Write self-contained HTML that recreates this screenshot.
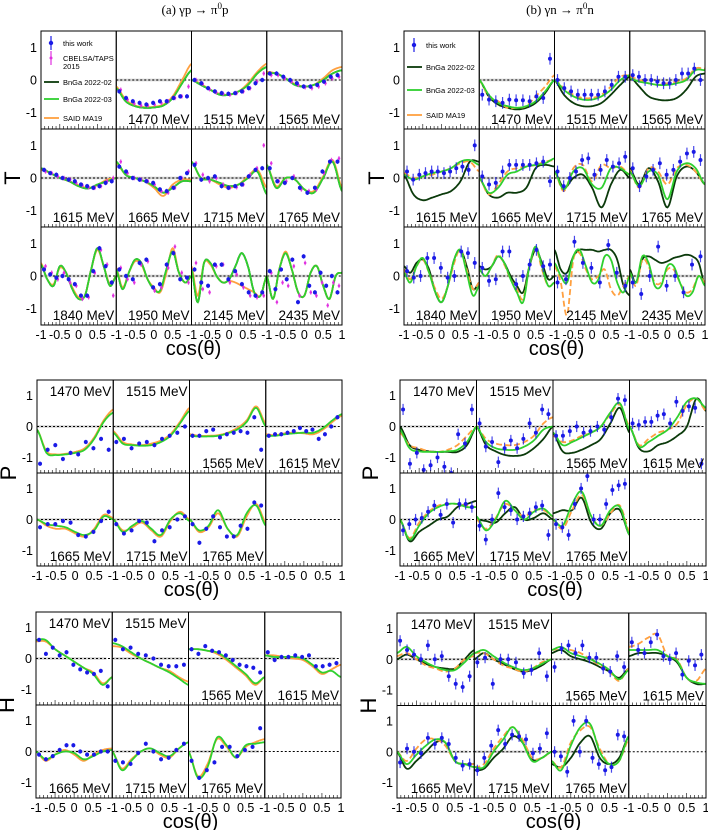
<!DOCTYPE html>
<html><head><meta charset="utf-8"><style>
html,body{margin:0;padding:0;background:#fff}
svg{display:block;font-family:"Liberation Sans",sans-serif}
</style></head><body>
<svg id="c" width="708" height="830" viewBox="0 0 708 830">
<text x="195" y="14" font-family="Liberation Serif,serif" font-size="13" text-anchor="middle">(a) γp → π<tspan dy="-5" font-size="9">0</tspan><tspan dy="5">p</tspan></text>
<text x="560" y="14" font-family="Liberation Serif,serif" font-size="13" text-anchor="middle">(b) γn → π<tspan dy="-5" font-size="9">0</tspan><tspan dy="5">n</tspan></text>
</svg>
<script>
// ---- data ----
const energiesT = ["1470 MeV","1515 MeV","1565 MeV","1615 MeV","1665 MeV","1715 MeV","1765 MeV","1840 MeV","1950 MeV","2145 MeV","2435 MeV"];
const energiesPH = ["1470 MeV","1515 MeV","1565 MeV","1615 MeV","1665 MeV","1715 MeV","1765 MeV"];
const yTicks = [1,0,-1];
const xTickLabels = ["-1","-0.5","0","0.5"];
const xTickVals = [-1,-0.5,0,0.5];

// left T (gamma p)
const LT_green = [
[-0.25,-0.65,-0.8,-0.85,-0.84,-0.78,-0.55,-0.1,0.3],
[0,-0.15,-0.3,-0.45,-0.45,-0.35,-0.15,0.2,0.4],
[0.2,0.2,0.05,-0.15,-0.2,-0.15,0.0,0.2,0.3],
[0.3,0.15,0,-0.1,-0.25,-0.32,-0.2,-0.1,0],
[0.5,0.1,0,-0.1,-0.25,-0.45,-0.3,-0.1,-0.1],
[0.5,0,-0.05,-0.15,-0.25,-0.2,0,0.2,-0.5],
[0.4,-0.3,0,-0.05,-0.35,-0.45,0,0.5,-0.4],
[0.35,-0.1,-0.3,0.3,0.1,-0.4,-0.7,-0.6,0.2,0.85,0.3,-0.3,0],
[0.2,-0.4,0.1,0.5,0.4,-0.1,-0.4,-0.45,0.2,0.75,0.1,-0.2,0],
[0.2,-0.8,0.4,0.4,0,-0.2,-0.1,0.3,0.7,0.3,-0.5,-0.6,0],
[0,-0.7,0.2,0.7,0.2,-0.5,-0.6,0.1,0.3,-0.3,-0.7,0,0.1]];
const LT_orange = [
[-0.2,-0.6,-0.78,-0.83,-0.82,-0.75,-0.5,0.0,0.5],
[0,-0.12,-0.3,-0.42,-0.45,-0.35,-0.1,0.25,0.5],
[0.25,0.2,0.05,-0.12,-0.2,-0.15,0.05,0.3,0.4],
[0.25,0.15,0,-0.1,-0.22,-0.3,-0.22,-0.05,0],
[0.45,0.1,0,-0.1,-0.3,-0.55,-0.2,-0.05,-0.05],
[0.5,0,-0.05,-0.2,-0.3,-0.2,0.05,0.25,-0.3],
[0.4,-0.25,0,-0.05,-0.35,-0.4,0.05,0.55,-0.3],
[0.4,-0.1,-0.25,0.25,0.1,-0.35,-0.65,-0.6,0.2,0.8,0.3,-0.25,0],
[0.25,-0.35,0.1,0.45,0.35,-0.1,-0.35,-0.5,0.1,0.85,0.1,-0.2,0],
[0.3,-0.6,0.4,0.35,0,-0.2,-0.15,-0.2,-0.3,-0.4,-0.5,-0.6,0],
[0,-0.7,0.2,0.75,0.2,-0.5,-0.6,0.1,0.3,-0.3,-0.7,0,0.1]];
const LT_pts = [
[-0.35,-0.55,-0.65,-0.7,-0.75,-0.7,-0.65,-0.65,-0.55,-0.5,-0.5],
[0,-0.1,-0.25,-0.35,-0.4,-0.42,-0.4,-0.35,-0.25,-0.1,0.0],
[0.2,0.2,0.1,0.0,-0.1,-0.2,-0.2,-0.15,-0.05,0.1,0.15],
[0.25,0.15,0.1,0,-0.05,-0.1,-0.2,-0.25,-0.3,-0.25,-0.15,-0.1],
[0.35,0.2,0,-0.05,-0.1,-0.15,-0.35,-0.4,-0.3,0,0.15],
[0.4,-0.05,0,0.05,-0.25,-0.3,-0.25,-0.2,0.05,0.25,0.3],
[0.3,-0.1,-0.15,0,-0.3,-0.45,-0.3,0.2,0.5,0.5],
[0.2,0.05,-0.05,0,-0.1,-0.25,-0.6,-0.6,0.15,0.85,0.3,-0.2],
[0.2,0,-0.1,0.4,0.5,-0.35,-0.25,0.35,0.7,-0.1,-0.05],
[0.2,-0.2,-0.3,0.35,0.35,-0.1,0.15,-0.25,-0.5,-0.6,-0.5],
[0.15,-0.4,0.2,-0.1,0.5,-0.8,0.6,-0.3,-0.5,0.1,-0.3,0,-0.5]];
const LT_mag = [
[-0.3,-0.6,-0.72,-0.78,-0.78,-0.75,-0.7,-0.65,-0.55,-0.5,-0.2],
[0,-0.12,-0.28,-0.38,-0.42,-0.45,-0.4,-0.35,-0.25,-0.05,0.2],
[0.15,0.15,0.05,-0.05,-0.15,-0.22,-0.25,-0.2,-0.1,0.05,0.1],
[0.2,0.15,0.05,0,-0.05,-0.15,-0.22,-0.28,-0.3,-0.25,-0.1,0.0],
[0.5,0.15,0,-0.05,-0.1,-0.2,-0.4,-0.45,-0.3,0,0.2],
[0.45,0.1,-0.1,0,-0.2,-0.3,-0.28,-0.2,0.1,0.3,1.0],
[0.45,-0.1,-0.1,0.05,-0.35,-0.4,-0.35,0.15,0.55,0.6],
[0.3,0.1,-0.1,0.1,-0.2,-0.3,-0.7,-0.65,0.1,0.8,0.35,-0.6],
[0.25,-0.1,-0.2,0.35,0.45,-0.45,-0.35,0.25,0.9,0.1,-0.2],
[0.4,-0.4,-0.5,0.3,0.35,-0.2,0.05,-0.35,-0.6,-0.65,-0.6],
[0.1,-0.8,-0.2,-0.3,0.3,-0.6,0.4,-0.5,-0.6,-0.2,-0.9,-0.2,-0.3]];

// right T (gamma n)
const RT_dark = [
[0,-0.5,-0.75,-0.85,-0.9,-0.85,-0.7,-0.4,0],
[0,-0.45,-0.7,-0.8,-0.8,-0.7,-0.45,-0.15,0.1],
[0.1,-0.2,-0.5,-0.6,-0.62,-0.55,-0.3,0.1,0.2],
[0.1,-0.5,-0.68,-0.6,-0.5,-0.4,-0.1,0.5,0.5],
[0,-0.5,-0.6,-0.45,-0.45,-0.3,0.3,0.4,0.35],
[0.2,-0.3,0,0.1,-0.3,-0.9,-0.2,0.25,0],
[0.3,-0.2,0.3,-0.1,-0.9,0.05,0.35,0.2,-0.2],
[0.3,0.1,0.4,0.5,0.2,-0.5,-0.8,-0.3,0.5,0.8,0.3,-0.4,-0.2],
[0.3,0.2,0.3,0.6,0.4,0,-0.3,-0.5,0.3,0.8,0.4,-0.1,0],
[0.8,0.2,0.1,0.6,0.8,0.8,0.8,0.75,0.8,0.8,0.5,-0.3,-0.6],
[0.2,-0.2,0.5,0.6,0.5,0.4,0.45,0.55,0.6,0.65,0.6,0.4,-0.3]];
const RT_green = [
[0,-0.45,-0.7,-0.8,-0.85,-0.8,-0.65,-0.35,0],
[0,-0.3,-0.5,-0.6,-0.6,-0.5,-0.3,0.0,0.15],
[0.05,-0.05,-0.1,-0.15,-0.15,-0.1,0,0.3,0.3],
[0.1,-0.05,0.05,0.15,0.2,0.3,0.5,0.55,0.4],
[0,-0.45,-0.3,0.1,0.2,0.35,0.4,0.45,0.6],
[0.2,-0.35,0.2,0.3,-0.2,-0.3,0.3,0.3,0.1],
[0.2,-0.25,0.2,0.1,-0.65,0.2,0.45,0.3,-0.2],
[0.1,-0.2,0.3,0.55,0.1,-0.5,-0.8,-0.3,0.5,0.8,0.1,-0.6,-0.3],
[0.2,0.0,0.3,0.6,0.4,-0.1,-0.5,-0.8,0.3,0.9,0.3,-0.3,-0.2],
[0.4,0.0,-0.2,0.6,0.8,0.3,-0.2,-0.1,0.6,0.5,-0.2,-0.5,0],
[0.1,-0.2,0.6,0.4,-0.3,-0.3,0.3,0.3,-0.2,-0.6,-0.5,0,-0.3]];
const RT_orange = [
[0,-0.5,-0.65,-0.85,-0.85,-0.8,-0.5,-0.2,0.15],
[0,-0.25,-0.45,-0.55,-0.55,-0.45,-0.2,0.1,0.15],
[0.1,0,-0.1,-0.15,-0.1,-0.05,0.05,0.35,0.35],
[0.15,0,0.05,0.1,0.2,0.3,0.45,0.5,0.2],
[0,-0.5,-0.2,0.2,0.3,0.35,0.4,0.5,0.55],
[0.2,-0.4,0.3,0.4,-0.1,0.4,0.3,0.35,0.1],
[0.25,-0.3,0.3,0.2,-0.2,0.3,0.4,0.2,-0.2],
[0.2,-0.1,0.3,0.5,0.1,-0.4,-0.7,-0.3,0.4,0.8,0.2,-0.4,-0.2],
[0.2,0.0,0.3,0.65,0.35,-0.1,-0.4,-0.7,0.3,0.85,0.2,-0.3,-0.2],
[0.3,-0.2,-1.2,0.5,0.7,0.2,-0.1,0,0.2,-0.4,-0.6,-0.3,0],
[0.1,-0.3,0.5,0.3,-0.2,-0.2,0.2,0.2,-0.2,-0.5,-0.4,0,-0.2]];
const RT_pts = [
[-0.45,-0.6,-0.65,-0.7,-0.6,-0.62,-0.62,-0.65,-0.5,-0.55,0.65],
[0,-0.25,-0.35,-0.45,-0.45,-0.45,-0.45,-0.35,-0.15,0.1,0.1],
[0.15,0.1,0,0.0,-0.05,-0.1,-0.1,0,0.2,0.2,0.35,0],
[0.2,-0.05,0.1,0.15,0.2,0.2,0.15,0.2,0.3,0.35,0.25,1.0],
[0.05,-0.2,-0.15,0.2,0.4,0.4,0.4,0.4,0.45,0.5,-0.1],
[0.2,-0.25,0,0.2,0.55,0.6,0.1,0.25,0.55,0.35,0.45,0.65],
[0.3,-0.25,0.05,0.25,0.45,0.1,0.25,0.5,0.75,0.8,0.55],
[0.15,-0.05,0,0.55,0.55,0.25,-0.05,0,0.75,0.7,0.4],
[0.25,-0.15,-0.1,0.75,0.75,-0.25,0,0.35,0.8,0.3,0.35],
[-0.2,-0.1,1.05,0.4,0.25,-0.2,0.95,0.1,-0.3],
[-0.2,-0.55,0,0.9,-0.3,0,-0.5,0.35,0.6]];

// left P
const LP_green = [
[-0.1,-0.85,-0.92,-0.9,-0.85,-0.75,-0.4,0.15,0.45],
[-0.2,-0.55,-0.6,-0.62,-0.6,-0.5,-0.3,0.1,0.5],
[-0.3,-0.32,-0.32,-0.3,-0.22,-0.1,0.15,0.6,0.0],
[-0.3,-0.3,-0.25,-0.22,-0.2,-0.2,-0.05,0.2,0.4],
[0,-0.15,-0.2,-0.25,-0.4,-0.5,-0.35,0.1,0],
[0,-0.4,-0.2,-0.05,-0.3,-0.5,0,0.2,-0.05],
[0,-0.35,-0.2,0.3,-0.3,-0.5,0.2,0.45,-0.2]];
const LP_orange = [
[-0.1,-0.8,-0.9,-0.88,-0.82,-0.7,-0.35,0.2,0.55],
[-0.15,-0.5,-0.58,-0.6,-0.55,-0.45,-0.25,0.15,0.6],
[-0.25,-0.3,-0.3,-0.28,-0.2,-0.05,0.2,0.65,0.1],
[-0.25,-0.28,-0.22,-0.2,-0.22,-0.25,-0.1,0.15,0.35],
[0,-0.2,-0.3,-0.3,-0.45,-0.55,-0.3,0.15,0.05],
[0,-0.35,-0.25,-0.1,-0.35,-0.55,-0.05,0.25,0],
[0,-0.4,-0.25,0.2,-0.3,-0.55,0.1,0.5,-0.1]];
const LP_pts = [
[-1.2,-0.75,-0.6,-1.05,-0.85,-0.9,-0.5,-0.7,-0.4,-0.75],
[-0.5,-0.4,-0.7,-0.55,-0.5,-0.6,-0.4,-0.3,-0.2,0],
[-0.3,-0.3,-0.15,-0.1,-0.35,-0.25,-0.2,-0.15,-0.2,0.3,-0.75],
[-0.3,-0.25,-0.25,-0.2,-0.15,-0.05,-0.15,-0.1,-0.4,-0.25,0.0,0.3],
[-0.25,-0.15,-0.15,-0.05,-0.1,-0.5,-0.55,-0.4,-0.05,0.25],
[-0.15,-0.45,-0.35,-0.05,-0.1,-0.7,-0.35,-0.25,0.0,0.1],
[-0.15,-0.75,-0.3,0.1,-0.25,-0.55,-0.55,-0.2,-0.3,0.55,0.45]];

// right P
const RP_dark = [
[0,-0.6,-0.75,-0.8,-0.82,-0.82,-0.82,-0.6,0],
[0,-0.6,-0.8,-0.92,-0.95,-0.9,-0.7,-0.4,0],
[-0.2,-0.8,-0.85,-0.75,-0.6,-0.4,0.1,0.6,-0.2],
[0,-0.7,-0.8,-0.6,-0.5,-0.3,0.0,0.9,0.5],
[0,-0.7,-0.4,-0.2,0,0.1,0.4,0.5,0.6],
[0,-0.05,-0.1,0.2,0.4,0,0.05,0.2,0],
[0.2,0.3,0.3,0.7,-0.1,-0.3,0.2,0.3,-0.5]];
const RP_green = [
[-0.1,-0.7,-0.8,-0.82,-0.82,-0.8,-0.75,-0.5,0],
[0,-0.5,-0.7,-0.75,-0.75,-0.65,-0.45,-0.1,0],
[-0.2,-0.6,-0.5,-0.35,-0.2,0,0.45,0.75,-0.1],
[0,-0.65,-0.5,-0.3,-0.1,0.3,0.8,0.9,0.6],
[0,-0.65,-0.2,0.2,0.4,0.5,0.5,0.4,0.4],
[0.1,-0.35,0.0,0.6,0.3,0.0,0.25,0.35,0.1],
[0,-0.2,0.5,0.9,0.1,-0.2,0.3,0.4,-0.5]];
const RP_orange = [
[-0.2,-0.6,-0.7,-0.8,-0.82,-0.75,-0.6,-0.3,0],
[0,-0.4,-0.55,-0.6,-0.6,-0.5,-0.3,0.1,0.3],
[-0.3,-0.5,-0.45,-0.3,-0.2,0,0.4,0.7,0],
[0,-0.6,-0.4,-0.2,-0.1,0.1,0.7,0.9,0.5],
[0,-0.6,-0.1,0.25,0.45,0.5,0.5,0.45,0.4],
[0,-0.3,0.05,0.5,0.3,0.1,0.3,0.3,0.1],
[0,-0.3,0.3,0.8,0.1,-0.2,0.2,0.45,-0.4]];
const RP_pts = [
[0.55,-1.2,-0.85,-1.4,-1.25,-1.0,-1.3,-1.5,-0.25,-0.55,0.55],
[0.1,-0.65,-0.5,-1.15,-0.7,-0.45,-0.7,-0.4,0.1,-0.2,0.55,0.4],
[-0.3,-0.3,-0.15,0,-0.2,-0.15,0,-0.1,0.3,0.9,0.85],
[0.1,0.05,0.15,0.15,0.35,0.4,0.1,0.8,0.5,0.65,0.6,-1.2],
[-0.35,-0.15,0,0.05,0.25,0.45,0.15,0.5,-0.1,0.5,0.5,0.4],
[-0.2,-0.65,0,0.85,0.4,0.3,0,0.1,0.2,0.4,0.45,-0.5],
[-0.15,-0.25,-0.5,0.5,1.0,1.4,0,0,0.5,0.95,1.1,1.15]];

// left H
const LH_green = [
[0.6,0.6,0.3,0.1,-0.1,-0.3,-0.5,-0.85,-0.6],
[0.5,0.4,0.2,0.0,-0.15,-0.3,-0.45,-0.65,-0.85],
[0.3,0.3,0.25,0.2,0.0,-0.25,-0.5,-0.8,-0.6],
[0.1,0.05,0.05,0.05,0.0,-0.2,-0.45,-0.4,-0.6],
[0,-0.25,-0.1,0.0,-0.05,-0.25,-0.15,0.0,0.05],
[0,-0.6,-0.3,0,0.1,-0.05,-0.15,0.1,0.3],
[0,-0.85,-0.5,0.45,0.2,-0.2,0.2,0.25,0.3]];
const LH_orange = [
[0.55,0.55,0.3,0.1,-0.1,-0.3,-0.45,-0.8,-0.6],
[0.4,0.35,0.15,0.0,-0.15,-0.3,-0.4,-0.6,-0.75],
[0.3,0.3,0.25,0.15,-0.05,-0.3,-0.55,-0.85,-0.6],
[0.1,0.1,0.05,0.0,-0.05,-0.25,-0.5,-0.35,-0.2],
[0,-0.3,-0.1,0.05,-0.1,-0.3,-0.1,0.05,0.1],
[0,-0.55,-0.25,0,0.1,-0.1,-0.2,0.1,0.3],
[0,-0.8,-0.4,0.4,0.15,-0.2,0.15,0.3,0.4]];
const LH_pts = [
[0.6,0.15,0.35,0.1,0.2,-0.2,-0.35,-0.45,-0.5,-0.4,-0.9],
[0.6,0.3,0.35,0.15,0.1,0.0,-0.2,-0.25,-0.25,-0.2],
[0.3,0.15,0.4,0.25,0.2,0.1,-0.05,-0.2,-0.25,-0.3,-0.45],
[0.2,-0.05,0.05,0.05,0.1,0.05,0.1,-0.25,-0.25,-0.2,-0.15],
[-0.1,-0.25,-0.15,0.05,0.2,0.2,0.0,-0.1,-0.1,0.0,0.0],
[-0.3,-0.35,-0.4,-0.05,0.25,0.0,-0.25,-0.2,0.05,0.25],
[-0.3,-0.85,-0.6,-0.35,0.15,0.15,-0.15,0.05,0.15,0.75]];

// right H
const RH_dark = [
[0,0.15,0.0,-0.15,-0.25,-0.3,-0.3,0,0.3],
[0,0.2,0,-0.15,-0.3,-0.4,-0.35,-0.2,0],
[0.2,0.3,0.1,0,-0.1,-0.25,-0.4,-0.6,-0.3],
[0.1,0.2,0.2,0.2,0.1,-0.1,-0.6,-0.8,-0.8],
[0,-0.55,-0.3,0,0.3,0.3,-0.3,-0.4,-0.4],
[-0.6,-0.55,-0.2,0.1,0.5,0.3,-0.25,-0.2,0],
[-0.4,-0.5,-0.2,0.3,0.5,-0.2,-0.4,-0.2,0.5]];
const RH_green = [
[0.2,0.4,0.1,-0.1,-0.25,-0.35,-0.35,-0.1,0.2],
[0.2,0.3,0.1,-0.1,-0.25,-0.35,-0.3,-0.15,0],
[0.3,0.4,0.2,0.1,0,-0.15,-0.35,-0.65,-0.35],
[0.3,0.3,0.3,0.3,0.1,-0.05,-0.6,-0.75,-0.8],
[0,-0.4,-0.1,0.2,0.4,0.3,-0.3,-0.4,-0.5],
[-0.5,-0.5,0,0.4,0.8,0.3,-0.3,-0.2,0],
[-0.3,-0.6,0.2,0.8,0.9,0,-0.4,-0.3,0.5]];
const RH_orange = [
[0.1,0.2,0.0,-0.2,-0.3,-0.4,-0.3,0,0.1],
[0.2,0.2,0.0,-0.2,-0.3,-0.4,-0.3,-0.1,0.0],
[0.3,0.35,0.3,0.2,0,-0.2,-0.4,-0.7,-0.3],
[0.4,0.5,0.7,0.8,0.1,0,-0.6,-0.7,-0.3],
[0,-0.3,0.1,0.4,0.4,0.2,-0.3,-0.4,-0.4],
[-0.5,-0.4,0.1,0.5,0.8,0.4,-0.2,-0.2,0],
[-0.3,-0.5,0.3,0.7,0.8,0.1,-0.4,-0.3,0.4]];
const RH_pts = [
[0.6,0.3,0.15,0.0,0.45,0.0,0.1,-0.55,-0.8,-0.9,-0.55],
[-0.1,0.05,-0.8,0,0,-0.1,-0.45,-0.35,0.2,-0.55],
[-0.25,0.35,0.45,0.2,0.45,0.05,0.05,-0.3,-0.4,0.1,-0.25],
[0.55,0.3,0.2,0.55,0.8,0.1,0.0,0.2,-0.5,-0.05,-0.2,0.15],
[-0.35,0.1,0,-0.05,0.45,0.25,0.45,0.25,-0.2,-0.45,-0.4],
[-0.6,-0.2,0.2,0.7,0.25,0.55,0.5,0.4,-0.05,0.1,0.6],
[0,-0.15,-0.65,1.0,0.0,1.0,-0.2,-0.4,-0.6,-0.5,0.55,0.5]];

const errLeft = 0.07, errRight = 0.18;
const COL = {blue:"#1a1ae6", mag:"#e030e0", green:"#2fd02f", dark:"#0b3a0b", orange:"#ffa040", gray:"#c8c8c8"};

// ---- drawing ----
const svg = document.getElementById('c');
const NS = "http://www.w3.org/2000/svg";
let clipId = 0;
function el(tag, attrs, parent){
  const e = document.createElementNS(NS, tag);
  for (const k in attrs) e.setAttribute(k, attrs[k]);
  (parent||svg).appendChild(e);
  return e;
}
function spline(vals){
  const n = vals.length, pts=[];
  for (let i=0;i<n-1;i++){
    const p0=vals[Math.max(0,i-1)],p1=vals[i],p2=vals[i+1],p3=vals[Math.min(n-1,i+2)];
    for (let s=0;s<10;s++){
      const t=s/10, t2=t*t,t3=t2*t;
      const v=0.5*((2*p1)+(-p0+p2)*t+(2*p0-5*p1+4*p2-p3)*t2+(-p0+3*p1-3*p2+p3)*t3);
      pts.push([-1+2*(i+t)/(n-1), v]);
    }
  }
  pts.push([1, vals[n-1]]);
  return pts;
}

function section(cfg){
  const {x0,x1,y0,y1,rows,title} = cfg;
  const cw=(x1-x0)/4, rh=(y1-y0)/rows;
  const g = el('g',{});
  
  
  const yc=(y0+y1)/2;
  const at = el('text',{x:0,y:0,'font-size':22,'text-anchor':'middle',transform:`translate(${cfg.titleX},${yc}) rotate(-90)`},g);
  at.textContent = title;
  
  
  for (let c=0;c<4;c++){
    const px0 = x0+c*cw;
    xTickVals.forEach((v,i)=>{
      const t = el('text',{x:px0+(v+1)/2*cw, y:y1+14,'font-size':12.5,'text-anchor':'middle'},g);
      t.textContent = xTickLabels[i];
      
      
    });
  }
  const t1 = el('text',{x:x1,y:y1+14,'font-size':12.5,'text-anchor':'middle'},g);
  t1.textContent="1";
  
  
  const xl = el('text',{x:x0+(x1-x0)/2+2,y:y1+30,'font-size':20,'text-anchor':'middle'},g);
  xl.textContent="cos(θ)";
  
  

  for (let r=0;r<rows;r++){
    const ry0=y0+r*rh;
    yTicks.forEach(v=>{
      const yy = ry0 + rh/2 - v*rh/3;
      const t = el('text',{x:x0-4,y:yy+4.5,'font-size':12.5,'text-anchor':'end'},g);
      t.textContent = String(v);
      
      
    });
  }

  cfg.panels.forEach((p)=>{
    const c=p.col, r=p.row;
    const px=x0+c*cw, py=y0+r*rh;
    const X=v=>px+(v+1)/2*cw, Y=v=>py+rh/2-v*rh/3;
    const pg = el('g',{},g);
    
    
    const id='cl'+(clipId++);
    const cp = el('clipPath',{id},pg);
    el('rect',{x:px,y:py,width:cw,height:rh},cp);
    const inner = el('g',{'clip-path':`url(#${id})`},pg);
    if (p.kind!=='legend'){
      if (p.label){
        const b = el('rect',{x:X(-1),y:Y(0.04),width:X(0.85)-X(-1),height:Y(-0.04)-Y(0.04),fill:COL.gray,opacity:0.8},inner);
        
        
      }
      const zl = el('line',{x1:px,x2:px+cw,y1:Y(0),y2:Y(0),stroke:'#000','stroke-width':1,'stroke-dasharray':'2,2'},inner);
      
      
      const curves=[[p.dark,COL.dark,''],[p.orange,COL.orange,cfg.orangeDash||''],[p.green,COL.green,'']];
      curves.forEach(([vals,col,dash])=>{
        if(!vals) return;
        const d = spline(vals).map((q,i)=>(i?'L':'M')+X(q[0]).toFixed(1)+','+Y(q[1]).toFixed(1)).join('');
        const path = el('path',{d,fill:'none',stroke:col,'stroke-width':1.8,'stroke-dasharray':dash},inner);
        
        
      });
      const drawPts=(vals,col,err,off)=>{
        if(!vals) return;
        const n=vals.length;
        vals.forEach((v,i)=>{
          const cx = X(-0.92+off+i*1.8/Math.max(n-1,1));
          const bar = el('line',{x1:cx,x2:cx,y1:Y(v+err),y2:Y(v-err),stroke:col,'stroke-width':1.2,opacity:0.8},inner);
          
          
          const dot = el('circle',{cx,cy:Y(v),r:col===COL.mag?1.3:2,fill:col},inner);
          
          
        });
      };
      drawPts(p.mag,COL.mag,errLeft,0.04);
      drawPts(p.pts,COL.blue,p.err,0);
    }
    for (let k=-9;k<=9;k++){
      const tx = X(k/10);
      const tk = el('line',{x1:tx,x2:tx,y1:py+rh,y2:py+rh-(k%5===0?5:3),stroke:'#000','stroke-width':0.6},pg);
      
      
    }
    const fr = el('rect',{x:px,y:py,width:cw,height:rh,fill:'none',stroke:'#000','stroke-width':1},pg);
    
    
    if (p.label){
      const top = p.labelTop;
      const lt = el('text',{x:px+cw-2,y:top?py+16:py+rh-5,'font-size':13.5,'text-anchor':'end'},pg);
      lt.textContent=p.label;
      
      
    }
    if (p.kind==='legend'){
      p.entries.forEach(([txt,col,type,yy,yy2])=>{
        const lx=px+8;
        if(type==='pt'){
          const b=el('line',{x1:lx+2,x2:lx+2,y1:py+yy-7,y2:py+yy+7,stroke:col,'stroke-width':1.2},pg);
          
          
          const d=el('circle',{cx:lx+2,cy:py+yy,r:col===COL.mag?1.5:2.2,fill:col},pg);
          
          
        } else {
          const ln=el('line',{x1:lx-5,x2:lx+10,y1:py+yy,y2:py+yy,stroke:col,'stroke-width':1.8},pg);
          
          
        }
        const t=el('text',{x:lx+14,y:py+yy+3,'font-size':7.5},pg);
        t.textContent=txt;
        
        
        if(yy2){
          const t2=el('text',{x:lx+14,y:py+yy2+3,'font-size':7.5},pg);
          t2.textContent="2015";
          
          
        }
      });
    }
  });
}

function tPanels(green,orange,dark,pts,mag,err,legendEntries){
  const list=[{col:0,row:0,kind:'legend',entries:legendEntries}];
  for(let i=0;i<11;i++){
    const k=i+1;
    list.push({col:k%4,row:Math.floor(k/4),label:energiesT[i],green:green[i],orange:orange[i],dark:dark?dark[i]:null,pts:pts[i],mag:mag?mag[i]:null,err});
  }
  return list;
}
function phPanels(green,orange,dark,pts,err){
  const list=[];
  for(let i=0;i<7;i++){
    list.push({col:i%4,row:Math.floor(i/4),label:energiesPH[i],labelTop:(i<2),green:green[i],orange:orange[i],dark:dark?dark[i]:null,pts:pts[i],err});
  }
  list.push({col:3,row:1,kind:'empty'});
  return list;
}

section({name:'section-T-proton',x0:41,x1:342,y0:31,y1:325,rows:3,title:'T',titleX:20,
  panels:tPanels(LT_green,LT_orange,LT_green,LT_pts,LT_mag,errLeft,[
    ["this work",COL.blue,'pt',12],["CBELSA/TAPS",COL.mag,'pt',27,35],["BnGa 2022-02",COL.dark,'ln',51],["BnGa 2022-03",COL.green,'ln',68],["SAID MA19",COL.orange,'ln',87]])});
section({name:'section-T-neutron',x0:404,x1:705,y0:31,y1:325,rows:3,title:'T',titleX:384,orangeDash:'6,3',
  panels:tPanels(RT_green,RT_orange,RT_dark,RT_pts,null,errRight,[
    ["this work",COL.blue,'pt',14],["BnGa 2022-02",COL.dark,'ln',36],["BnGa 2022-03",COL.green,'ln',59],["SAID MA19",COL.orange,'ln',84]])});
section({name:'section-P-proton',x0:37,x1:342,y0:380,y1:566,rows:2,title:'P',titleX:16,
  panels:phPanels(LP_green,LP_orange,null,LP_pts,errLeft)});
section({name:'section-P-neutron',x0:400,x1:706,y0:380,y1:566,rows:2,title:'P',titleX:378,orangeDash:'6,3',
  panels:phPanels(RP_green,RP_orange,RP_dark,RP_pts,errRight)});
section({name:'section-H-proton',x0:36,x1:341,y0:612,y1:798,rows:2,title:'H',titleX:14,
  panels:phPanels(LH_green,LH_orange,null,LH_pts,errLeft)});
section({name:'section-H-neutron',x0:397,x1:706,y0:613,y1:798,rows:2,title:'H',titleX:376,orangeDash:'6,3',
  panels:phPanels(RH_green,RH_orange,RH_dark,RH_pts,errRight)});
</script>
</body></html>
